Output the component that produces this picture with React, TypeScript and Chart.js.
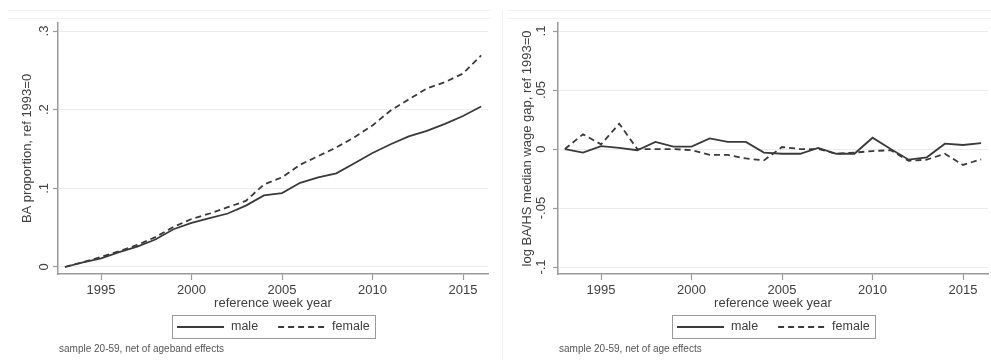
import React, { useEffect, useRef } from 'react';
import { Chart, registerables } from 'chart.js';

Chart.register(...registerables);

// ---- data ----
const years = [1993, 1994, 1995, 1996, 1997, 1998, 1999, 2000, 2001, 2002, 2003, 2004, 2005, 2006, 2007, 2008, 2009, 2010, 2011, 2012, 2013, 2014, 2015, 2016];
const baMale = [0, 0.006, 0.011, 0.019, 0.026, 0.035, 0.048, 0.056, 0.062, 0.068, 0.078, 0.091, 0.094, 0.107, 0.114, 0.119, 0.132, 0.145, 0.156, 0.166, 0.173, 0.182, 0.192, 0.204];
const baFemale = [0, 0.006, 0.013, 0.020, 0.028, 0.038, 0.051, 0.061, 0.068, 0.076, 0.084, 0.105, 0.114, 0.130, 0.141, 0.152, 0.165, 0.180, 0.199, 0.213, 0.227, 0.235, 0.246, 0.269];
const gapMale = [0, -0.003, 0.0025, 0.001, -0.001, 0.006, 0.002, 0.002, 0.009, 0.006, 0.006, -0.003, -0.004, -0.004, 0.001, -0.004, -0.004, 0.0096, 0, -0.009, -0.007, 0.0045, 0.0034, 0.005];
const gapFemale = [0, 0.0125, 0.004, 0.0215, 0, 0, 0, -0.001, -0.005, -0.005, -0.008, -0.0096, 0.0017, 0, 0, -0.004, -0.003, -0.0017, -0.001, -0.010, -0.009, -0.004, -0.0135, -0.0087];
const seriesLabels = ['male', 'female'];
const xTicks = [1995, 2000, 2005, 2010, 2015];
const baTicks = [0, 0.1, 0.2, 0.3];
const gapTicks = [-0.1, -0.05, 0, 0.05, 0.1];
const xTitle = 'reference week year';
const baTitle = 'BA proportion, ref 1993=0';
const gapTitle = 'log BA/HS median wage gap, ref 1993=0';
const baNote = 'sample 20-59, net of ageband effects';
const gapNote = 'sample 20-59, net of age effects';

const FONT = '"Liberation Sans", Arial, Helvetica, sans-serif';
const TEXT = '#404040';
const AXIS = '#9a9a9a';
const LINE = '#3a3a3a';

function stataFmt(v: number): string {
  if (Math.abs(v) < 1e-9) return '0';
  const s = String(parseFloat(v.toFixed(4)));
  return s.replace(/^(-?)0\./, '$1.');
}

function toPoints(vals: number[]) {
  return vals.map((v, i) => ({ x: years[i], y: v }));
}

function makeDecor(note: string, leftEdge: boolean) {
  return {
    id: 'decor',
    beforeDraw(chart: any) {
      const ctx = chart.ctx;
      const w = chart.width;
      const h = chart.height;
      ctx.save();
      ctx.strokeStyle = '#f1f1f1';
      ctx.lineWidth = 1;
      ctx.beginPath();
      ctx.moveTo(8, 10.5); ctx.lineTo(w, 10.5);
      ctx.moveTo(8, 18.5); ctx.lineTo(w, 18.5);
      if (leftEdge) { ctx.moveTo(2.5, 10); ctx.lineTo(2.5, h); }
      ctx.stroke();
      ctx.restore();
    },
    afterDraw(chart: any) {
      const ctx = chart.ctx;
      const area = chart.chartArea;
      const cx = (area.left + area.right) / 2;
      ctx.save();
      ctx.font = '12.5px ' + FONT;
      const items = chart.data.datasets.map((ds: any) => ({
        label: ds.label,
        dash: ds.borderDash || [],
        color: ds.borderColor,
        lw: ds.borderWidth,
        tw: ctx.measureText(ds.label).width,
      }));
      const pad = 5, lineW = 47, gapT = 7, gapItem = 20;
      let total = pad * 2 + gapItem * (items.length - 1);
      items.forEach((it: any) => { total += lineW + gapT + it.tw; });
      const left = Math.round(cx - total / 2);
      const top = 315;
      const hh = 23;
      ctx.strokeStyle = AXIS;
      ctx.lineWidth = 1;
      ctx.strokeRect(left + 0.5, top + 0.5, Math.round(total), hh);
      let x = left + pad;
      const y = top + hh / 2 + 0.5;
      items.forEach((it: any) => {
        ctx.beginPath();
        ctx.setLineDash(it.dash);
        ctx.strokeStyle = it.color;
        ctx.lineWidth = it.lw;
        ctx.moveTo(x, y);
        ctx.lineTo(x + lineW, y);
        ctx.stroke();
        ctx.setLineDash([]);
        x += lineW + gapT;
        ctx.fillStyle = TEXT;
        ctx.textAlign = 'left';
        ctx.textBaseline = 'middle';
        ctx.fillText(it.label, x, y);
        x += it.tw + gapItem;
      });
      ctx.font = '10px ' + FONT;
      ctx.fillStyle = '#555555';
      ctx.textAlign = 'left';
      ctx.textBaseline = 'middle';
      ctx.fillText(note, area.left + 1, 349);
      ctx.restore();
    },
  };
}

type PanelProps = {
  male: number[];
  female: number[];
  yTicks: number[];
  yMin: number;
  yMax: number;
  yTitle: string;
  note: string;
  tickPad: number;
  left: number;
  leftEdge: boolean;
};

function Panel(p: PanelProps) {
  const ref = useRef<HTMLCanvasElement | null>(null);
  useEffect(() => {
    if (!ref.current) return;
    const chart = new Chart(ref.current, {
      type: 'line',
      data: {
        datasets: [
          {
            label: seriesLabels[0],
            data: toPoints(p.male),
            borderColor: LINE,
            borderWidth: 1.8,
            pointRadius: 0,
            tension: 0,
            fill: false,
          },
          {
            label: seriesLabels[1],
            data: toPoints(p.female),
            borderColor: LINE,
            borderWidth: 1.8,
            borderDash: [6, 4],
            pointRadius: 0,
            tension: 0,
            fill: false,
          },
        ],
      },
      options: {
        responsive: false,
        animation: false,
        events: [],
        layout: { padding: { left: 0, top: 23, right: 3, bottom: 46 } },
        plugins: {
          legend: { display: false },
          tooltip: { enabled: false },
          title: { display: false },
        },
        scales: {
          x: {
            type: 'linear',
            min: 1992.62,
            max: 2016.38,
            afterBuildTicks: (s: any) => { s.ticks = xTicks.map((v) => ({ value: v })); },
            afterFit: (s: any) => { s.height = 40; },
            grid: { drawOnChartArea: false, tickLength: 6, tickColor: AXIS, tickWidth: 1.2 },
            border: { display: true, color: AXIS, width: 1.5 },
            ticks: {
              color: TEXT,
              font: { family: FONT, size: 13 },
              padding: 3,
              maxRotation: 0,
              callback: (v: any) => String(v),
            },
            title: {
              display: true,
              text: xTitle,
              color: TEXT,
              font: { family: FONT, size: 13 },
              padding: { top: 0, bottom: 3 },
            },
          },
          y: {
            type: 'linear',
            min: p.yMin,
            max: p.yMax,
            afterBuildTicks: (s: any) => { s.ticks = p.yTicks.map((v) => ({ value: v })); },
            afterFit: (s: any) => { s.width = 58; },
            grid: { color: '#ececec', lineWidth: 1, tickLength: 5, tickColor: AXIS, tickWidth: 1.2 },
            border: { display: true, color: AXIS, width: 1.5 },
            ticks: {
              color: TEXT,
              font: { family: FONT, size: 13 },
              padding: p.tickPad,
              minRotation: 90,
              maxRotation: 90,
              crossAlign: 'center',
              callback: (v: any) => stataFmt(Number(v)),
            },
            title: {
              display: true,
              text: p.yTitle,
              color: TEXT,
              font: { family: FONT, size: 13 },
              padding: { top: 20, bottom: 0 },
            },
          },
        },
      } as any,
      plugins: [makeDecor(p.note, p.leftEdge)],
    });
    return () => chart.destroy();
  }, []);
  return (
    <canvas
      ref={ref}
      width={491}
      height={360}
      style={{ position: 'absolute', left: p.left, top: 0, width: 491, height: 360, display: 'block' }}
    />
  );
}

export default function App() {
  return (
    <div style={{ position: 'fixed', left: 0, top: 0, width: 991, height: 360, background: '#ffffff', overflow: 'hidden' }}>
      <Panel male={baMale} female={baFemale} yTicks={baTicks} yMin={-0.0089} yMax={0.3102} yTitle={baTitle} note={baNote} tickPad={3.5} left={0} leftEdge={false} />
      <Panel male={gapMale} female={gapFemale} yTicks={gapTicks} yMin={-0.1059} yMax={0.1068} yTitle={gapTitle} note={gapNote} tickPad={0} left={500} leftEdge={true} />
    </div>
  );
}
